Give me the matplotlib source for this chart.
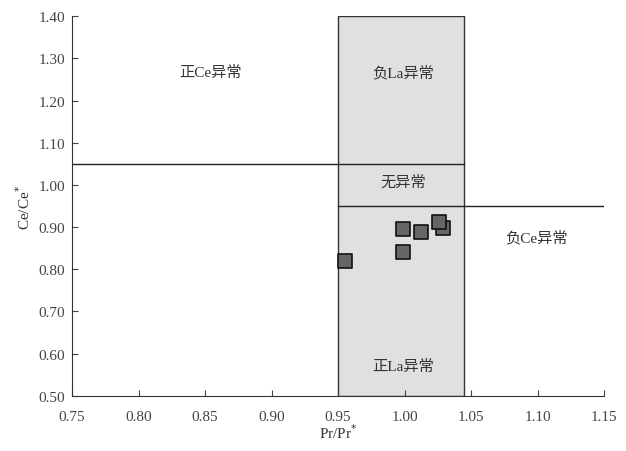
import matplotlib
matplotlib.use("Agg")
import matplotlib.pyplot as plt
from matplotlib.patches import Rectangle

plt.rcParams['font.family'] = ['Liberation Serif', 'Noto Sans CJK SC', 'DejaVu Sans']

# sample points
pr_anom = [0.955, 0.999, 0.999, 1.012, 1.029, 1.026]
ce_anom = [0.820, 0.896, 0.840, 0.888, 0.897, 0.911]

# field boundaries
la_box = (0.95, 1.045)
ce_upper = 1.05
ce_lower = 0.95

labels = ["正Ce异常", "负La异常", "无异常", "负Ce异常", "正La异常"]
label_pos = [(0.854, 1.267), (0.999, 1.267), (0.999, 1.007), (1.099, 0.876), (0.999, 0.571)]

xticks = [0.75, 0.80, 0.85, 0.90, 0.95, 1.00, 1.05, 1.10, 1.15]
yticks = [0.50, 0.60, 0.70, 0.80, 0.90, 1.00, 1.10, 1.20, 1.30, 1.40]

fig = plt.figure(figsize=(6.26, 4.52), dpi=100)
ax = fig.add_axes([0.115, 0.122, 0.85, 0.84])

ax.add_patch(Rectangle((la_box[0], 0.50), la_box[1] - la_box[0], 0.90,
                       facecolor='#e0e0e0', edgecolor='#333333', lw=1.0, zorder=1))
ax.plot([0.75, la_box[1]], [ce_upper, ce_upper], color='#222222', lw=1.0, zorder=2)
ax.plot([la_box[0], 1.15], [ce_lower, ce_lower], color='#222222', lw=1.0, zorder=2)

ax.scatter(pr_anom, ce_anom, marker='s', s=90, facecolor='#666666',
           edgecolor='#111111', linewidths=1.2, zorder=5)

for txt, (x, y) in zip(labels, label_pos):
    ax.text(x, y, txt, ha='center', va='center', fontsize=11,
            family=['Liberation Serif', 'Noto Sans CJK SC'], color='#333333')

ax.set_xlim(0.75, 1.15)
ax.set_ylim(0.50, 1.40)
ax.set_xticks(xticks)
ax.set_yticks(yticks)
ax.set_xticklabels([f"{v:.2f}" for v in xticks])
ax.set_yticklabels([f"{v:.2f}" for v in yticks])
ax.tick_params(direction='in', length=4, labelsize=11, colors='#444444')
ax.tick_params(axis='x', pad=10)
ax.tick_params(axis='y', pad=5)
ax.spines['top'].set_visible(False)
ax.spines['right'].set_visible(False)
ax.spines['left'].set_color('#333333')
ax.spines['bottom'].set_color('#333333')

ax.set_xlabel("Pr/Pr$^{*}$", fontsize=11, labelpad=0, color='#333333')
ax.set_ylabel("Ce/Ce$^{*}$", fontsize=11, labelpad=4, color='#333333')

fig.savefig("out.png", dpi=100)
